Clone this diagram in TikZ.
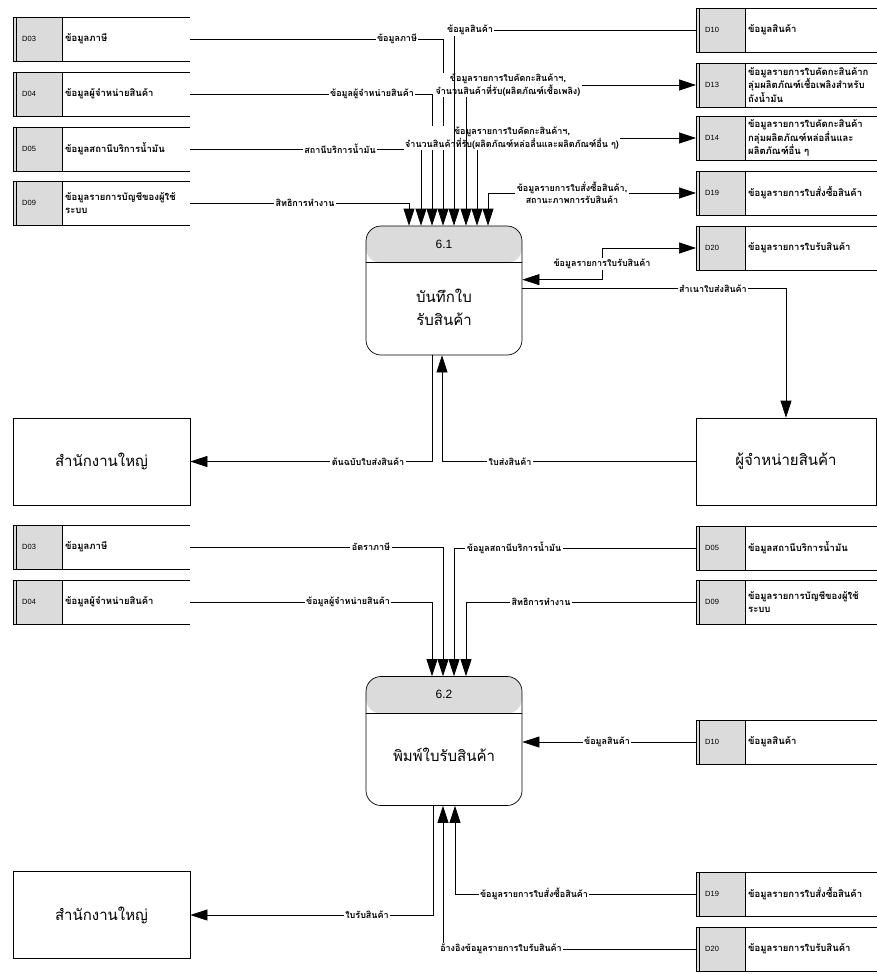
\documentclass[tikz,border=0pt]{standalone}
\usepackage{fontspec}
\setmainfont{Liberation Sans}
\newfontfamily\thai[Script=Thai]{Loma}
\usetikzlibrary{arrows.meta,calc}

\newcommand{\dstore}[6]{%
  \node[stnode, minimum width=#4pt] (#1) at (#2+#4/2, #3+22) {};
  \fill[storefill] (#1.north west) rectangle ($(#1.south west)+(49,0)$);
  \draw[ln] (#1.north east) -- (#1.north west) -- (#1.south west) -- (#1.south east);
  \draw[ln] ($(#1.north west)+(3,0)$) -- ($(#1.south west)+(3,0)$);
  \draw[ln] ($(#1.north west)+(49,0)$) -- ($(#1.south west)+(49,0)$);
  \node[idtext] (#1-id) at ($(#1.west)+(9,0)$) {#5};
  \node[sttext] (#1-tx) at ($(#1.west)+(52,0)$) {#6};
}

\begin{document}
\begin{tikzpicture}[x=1pt,y=-1pt,
  ln/.style={line width=0.7pt},
  flow/.style={ln,-{Triangle[length=17pt,width=11pt]}},
  flowboth/.style={ln,{Triangle[length=17pt,width=11pt]}-{Triangle[length=17pt,width=11pt]}},
  lbl/.style={fill=white, inner sep=1.5pt, align=center, font=\thai\bfseries\fontsize{9}{12.5}\selectfont},
  stnode/.style={minimum height=44pt, inner sep=0pt, outer sep=0pt},
  sttext/.style={anchor=west, inner sep=0pt, align=left, font=\thai\bfseries\fontsize{9.5}{13.5}\selectfont},
  idtext/.style={anchor=west, inner sep=0pt, font=\fontsize{7.5}{8}\selectfont},
  storefill/.style={fill=gray!28},
  proc/.style={draw, ln, rounded corners=15pt, minimum width=156pt, minimum height=129pt, inner sep=0pt,
    path picture={\fill[gray!28] (path picture bounding box.north west) rectangle ($(path picture bounding box.north east)+(0,37)$);}},
  pnum/.style={font=\fontsize{12}{14}\selectfont, inner sep=0pt},
  ptext/.style={align=center, inner sep=0pt, font=\thai\fontsize{15}{23}\selectfont},
  ent/.style={draw, ln, minimum width=177pt, minimum height=87pt, inner sep=0pt, font=\thai\fontsize{15}{18}\selectfont},
]
\useasboundingbox (0,0) rectangle (877,974);

% ---------- data stores, part 1
\dstore{sa03}{13}{17}{177}{D03}{ข้อมูลภาษี}
\dstore{sa04}{13}{72}{177}{D04}{ข้อมูลผู้จำหน่ายสินค้า}
\dstore{sa05}{13}{127}{177}{D05}{ข้อมูลสถานีบริการน้ำมัน}
\dstore{sa09}{13}{181}{177}{D09}{ข้อมูลรายการบัญชีของผู้ใช้\\ระบบ}
\dstore{sa10}{696}{8}{181}{D10}{ข้อมูลสินค้า}
\dstore{sa13}{696}{63}{181}{D13}{ข้อมูลรายการใบคัดกะสินค้าก\\ลุ่มผลิตภัณฑ์เชื้อเพลิงสำหรับ\\ถังน้ำมัน}
\dstore{sa14}{696}{116}{181}{D14}{ข้อมูลรายการใบคัดกะสินค้า\\กลุ่มผลิตภัณฑ์หล่อลื่นและ\\ผลิตภัณฑ์อื่น ๆ}
\dstore{sa19}{696}{171}{181}{D19}{ข้อมูลรายการใบสั่งซื้อสินค้า}
\dstore{sa20}{696}{226}{181}{D20}{ข้อมูลรายการใบรับสินค้า}

% ---------- data stores, part 2
\dstore{sb03}{13}{525}{177}{D03}{ข้อมูลภาษี}
\dstore{sb04}{13}{580}{177}{D04}{ข้อมูลผู้จำหน่ายสินค้า}
\dstore{sb05}{696}{526}{181}{D05}{ข้อมูลสถานีบริการน้ำมัน}
\dstore{sb09}{696}{580}{181}{D09}{ข้อมูลรายการบัญชีของผู้ใช้\\ระบบ}
\dstore{sb10}{696}{720}{181}{D10}{ข้อมูลสินค้า}
\dstore{sb19}{696}{872}{181}{D19}{ข้อมูลรายการใบสั่งซื้อสินค้า}
\dstore{sb20}{696}{927}{181}{D20}{ข้อมูลรายการใบรับสินค้า}

% ---------- processes
\node[proc] (p61) at (444,290.5) {};
\node[pnum] (p61n) at ($(p61.north)+(0,18.5)$) {6.1};
\draw[ln] ($(p61.north west)+(0,37)$) -- ($(p61.north east)+(0,37)$);
\node[ptext] (p61t) at ($(p61.center)+(0,17)$) {บันทึกใบ\\รับสินค้า};

\node[proc] (p62) at (444,741) {};
\node[pnum] (p62n) at ($(p62.north)+(0,18.5)$) {6.2};
\draw[ln] ($(p62.north west)+(0,37)$) -- ($(p62.north east)+(0,37)$);
\node[ptext] (p62t) at ($(p62.center)+(0,14)$) {พิมพ์ใบรับสินค้า};

% ---------- external entities
\node[ent] (hq1) at (101.5,461.5) {สำนักงานใหญ่};
\node[ent, minimum width=180pt] (sup) at (786,461.5) {ผู้จำหน่ายสินค้า};
\node[ent] (hq2) at (101.5,915) {สำนักงานใหญ่};

% ---------- flows of 6.1
\draw[flow] (sa09.east) -| ($(p61.north)+(-35,0)$);
\node[lbl] (f09) at (305,203) {สิทธิการทำงาน};
\draw[flow] (sa05.east) -| ($(p61.north)+(-23,0)$);
\node[lbl] (f05) at (340,149) {สถานีบริการน้ำมัน};
\draw[flow] (sa04.east) -| ($(p61.north)+(-12,0)$);
\node[lbl] (f04) at (372,94) {ข้อมูลผู้จำหน่ายสินค้า};
\draw[flow] (sa03.east) -| ($(p61.north)+(-1,0)$);
\node[lbl] (f03) at (397,39) {ข้อมูลภาษี};
\draw[flowboth] ($(p61.north)+(44,0)$) |- (sa19.west);
\node[lbl] (f19) at (572,193) {ข้อมูลรายการใบสั่งซื้อสินค้า,\\สถานะภาพการรับสินค้า};
\draw[flowboth] ($(p61.north)+(33,0)$) |- (sa14.west);
\node[lbl] (f14) at (512,138) {ข้อมูลรายการใบคัดกะสินค้าฯ,\\จำนวนสินค้าที่รับ(ผลิตภัณฑ์หล่อลื่นและผลิตภัณฑ์อื่น ๆ)};
\draw[flowboth] ($(p61.north)+(22,0)$) |- (sa13.west);
\node[lbl] (f13) at (508,85) {ข้อมูลรายการใบคัดกะสินค้าฯ,\\จำนวนสินค้าที่รับ(ผลิตภัณฑ์เชื้อเพลิง)};
\draw[flow] (sa10.west) -| ($(p61.north)+(10,0)$);
\node[lbl] (f10) at (470,30) {ข้อมูลสินค้า};

\draw[flowboth] ($(p61.north east)+(0,54)$) -- ++(80,0) |- (sa20.west);
\node[lbl] (f20) at (602,264) {ข้อมูลรายการใบรับสินค้า};
\draw[flow] ($(p61.north east)+(0,63)$) -| (sup.north);
\node[lbl] (fcp) at (713,289) {สำเนาใบส่งสินค้า};
\draw[flow] ($(p61.south)+(-12,0)$) |- (hq1.east);
\node[lbl] (fog) at (368,461.5) {ต้นฉบับใบส่งสินค้า};
\draw[flow] (sup.west) -| ($(p61.south)+(-2,0)$);
\node[lbl] (fdn) at (510,461.5) {ใบส่งสินค้า};

% ---------- flows of 6.2
\draw[flow] (sb03.east) -| ($(p62.north)+(-1,0)$);
\node[lbl] (g03) at (371,547) {อัตราภาษี};
\draw[flow] (sb04.east) -| ($(p62.north)+(-12,0)$);
\node[lbl] (g04) at (348,602) {ข้อมูลผู้จำหน่ายสินค้า};
\draw[flow] (sb05.west) -| ($(p62.north)+(10,0)$);
\node[lbl] (g05) at (514,548) {ข้อมูลสถานีบริการน้ำมัน};
\draw[flow] (sb09.west) -| ($(p62.north)+(22,0)$);
\node[lbl] (g09) at (541,602) {สิทธิการทำงาน};
\draw[flow] (sb10.west) -- (sb10.west -| p62.east);
\node[lbl] (g10) at (607,742) {ข้อมูลสินค้า};
\draw[flow] ($(p62.south)+(-11,0)$) |- (hq2.east);
\node[lbl] (gout) at (367,915) {ใบรับสินค้า};
\draw[flow] (sb19.west) -| ($(p62.south)+(11,0)$);
\node[lbl] (g19) at (534,894) {ข้อมูลรายการใบสั่งซื้อสินค้า};
\draw[flow] (sb20.west) -| ($(p62.south)+(-1,0)$);
\node[lbl] (g20) at (501,949) {อ้างอิงข้อมูลรายการใบรับสินค้า};
\end{tikzpicture}
\end{document}
